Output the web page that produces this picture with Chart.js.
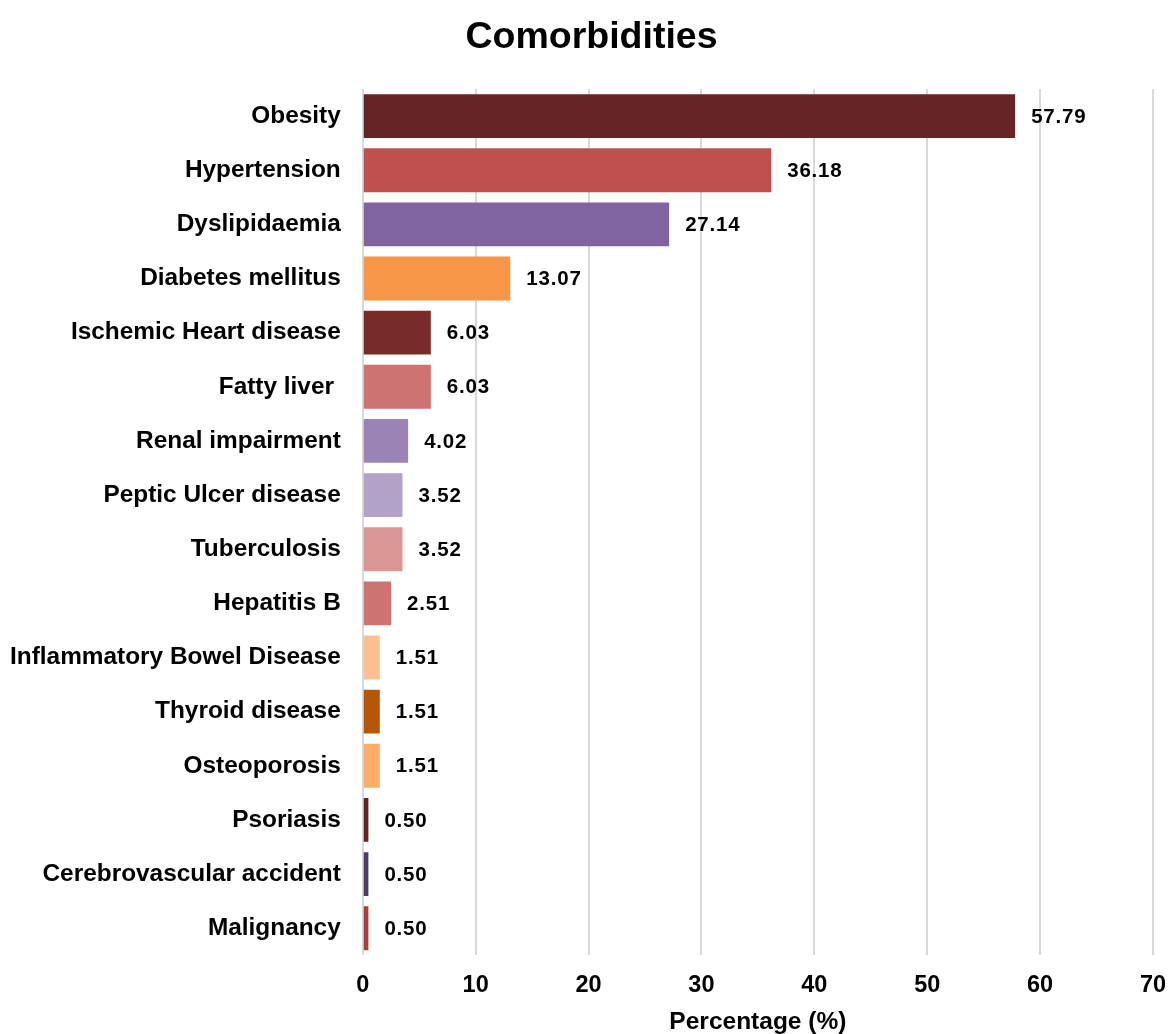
<!DOCTYPE html>
<html>
<head>
<meta charset="utf-8">
<script src="https://cdn.jsdelivr.net/npm/chart.js@4.4.1/dist/chart.umd.min.js"></script>
<style>
  html, body { margin: 0; padding: 0; background: #ffffff; }
  #wrap { width: 1170px; height: 1034px; position: relative; }
</style>
</head>
<body>
<div id="wrap"><canvas id="chart"></canvas></div>
<script>
const categories = [
  'Obesity', 'Hypertension', 'Dyslipidaemia', 'Diabetes mellitus',
  'Ischemic Heart disease', 'Fatty liver ', 'Renal impairment',
  'Peptic Ulcer disease', 'Tuberculosis', 'Hepatitis B',
  'Inflammatory Bowel Disease', 'Thyroid disease', 'Osteoporosis',
  'Psoriasis', 'Cerebrovascular accident', 'Malignancy'
];
const percentages = [57.79, 36.18, 27.14, 13.07, 6.03, 6.03, 4.02, 3.52, 3.52, 2.51, 1.51, 1.51, 1.51, 0.50, 0.50, 0.50];
const barColors = [
  '#652426', '#C0504F', '#8064A2', '#F79646', '#772C2A', '#CD7371',
  '#9B83B5', '#B3A2C7', '#D99694', '#CD7371', '#FAC090', '#B65708',
  '#F9AE6B', '#632523', '#4F3C66', '#A5403E'
];
const xTicks = [0, 10, 20, 30, 40, 50, 60, 70];

const FONT = "'Liberation Sans', Arial, sans-serif";

// Writes each bar's value just past its end
const valueLabels = {
  id: 'valueLabels',
  afterDatasetsDraw(chart) {
    const ctx = chart.ctx;
    const meta = chart.getDatasetMeta(0);
    ctx.save();
    ctx.letterSpacing = '0.8px';
    ctx.font = 'bold 20.5px ' + FONT;
    ctx.fillStyle = '#000000';
    ctx.textAlign = 'left';
    ctx.textBaseline = 'middle';
    meta.data.forEach((bar, i) => {
      ctx.fillText(percentages[i].toFixed(2), bar.x + 16, bar.y + 1);
    });
    ctx.restore();
  }
};

// Nudges the title a little to the right of the canvas centre
const titleShift = {
  id: 'titleShift',
  afterLayout(chart) {
    if (chart.titleBlock) {
      chart.titleBlock.left += 10;
      chart.titleBlock.right += 10;
    }
  }
};

new Chart(document.getElementById('chart'), {
  type: 'bar',
  data: {
    labels: categories,
    datasets: [{
      data: percentages,
      backgroundColor: barColors,
      borderWidth: 0,
      barPercentage: 0.81,
      categoryPercentage: 1.0
    }]
  },
  options: {
    indexAxis: 'y',
    responsive: true,
    maintainAspectRatio: false,
    animation: false,
    layout: { padding: { left: 10, right: 17, top: 6, bottom: 0 } },
    plugins: {
      legend: { display: false },
      tooltip: { enabled: false },
      title: {
        display: true,
        text: 'Comorbidities',
        color: '#000000',
        font: { family: FONT, size: 37.5, weight: 'bold' },
        padding: { top: 9, bottom: 29 }
      }
    },
    scales: {
      x: {
        min: 0,
        max: 70,
        afterBuildTicks(axis) { axis.ticks = xTicks.map(v => ({ value: v })); },
        // end labels may overhang the plot edges; only one tick gap below the plot
        afterFit(axis) {
          axis.paddingLeft = 0;
          axis.paddingRight = 0;
          axis.height -= axis.options.ticks.padding;
        },
        grid: { color: '#D9D9D9', lineWidth: 2, drawTicks: false },
        border: { display: false },
        ticks: {
          color: '#000000',
          padding: 16,
          font: { family: FONT, size: 23.5, weight: 'bold' }
        },
        title: {
          display: true,
          text: 'Percentage (%)',
          color: '#000000',
          font: { family: FONT, size: 24.5, weight: 'bold', lineHeight: 1.0 },
          padding: { top: 10, bottom: 0 }
        }
      },
      y: {
        afterFit(axis) { axis.width -= axis.options.ticks.padding; },
        grid: { display: false, drawTicks: false },
        border: { display: false },
        ticks: {
          color: '#000000',
          padding: 22,
          autoSkip: false,
          font: { family: FONT, size: 24.4, weight: 'bold' }
        }
      }
    }
  },
  plugins: [valueLabels, titleShift]
});
</script>
</body>
</html>
